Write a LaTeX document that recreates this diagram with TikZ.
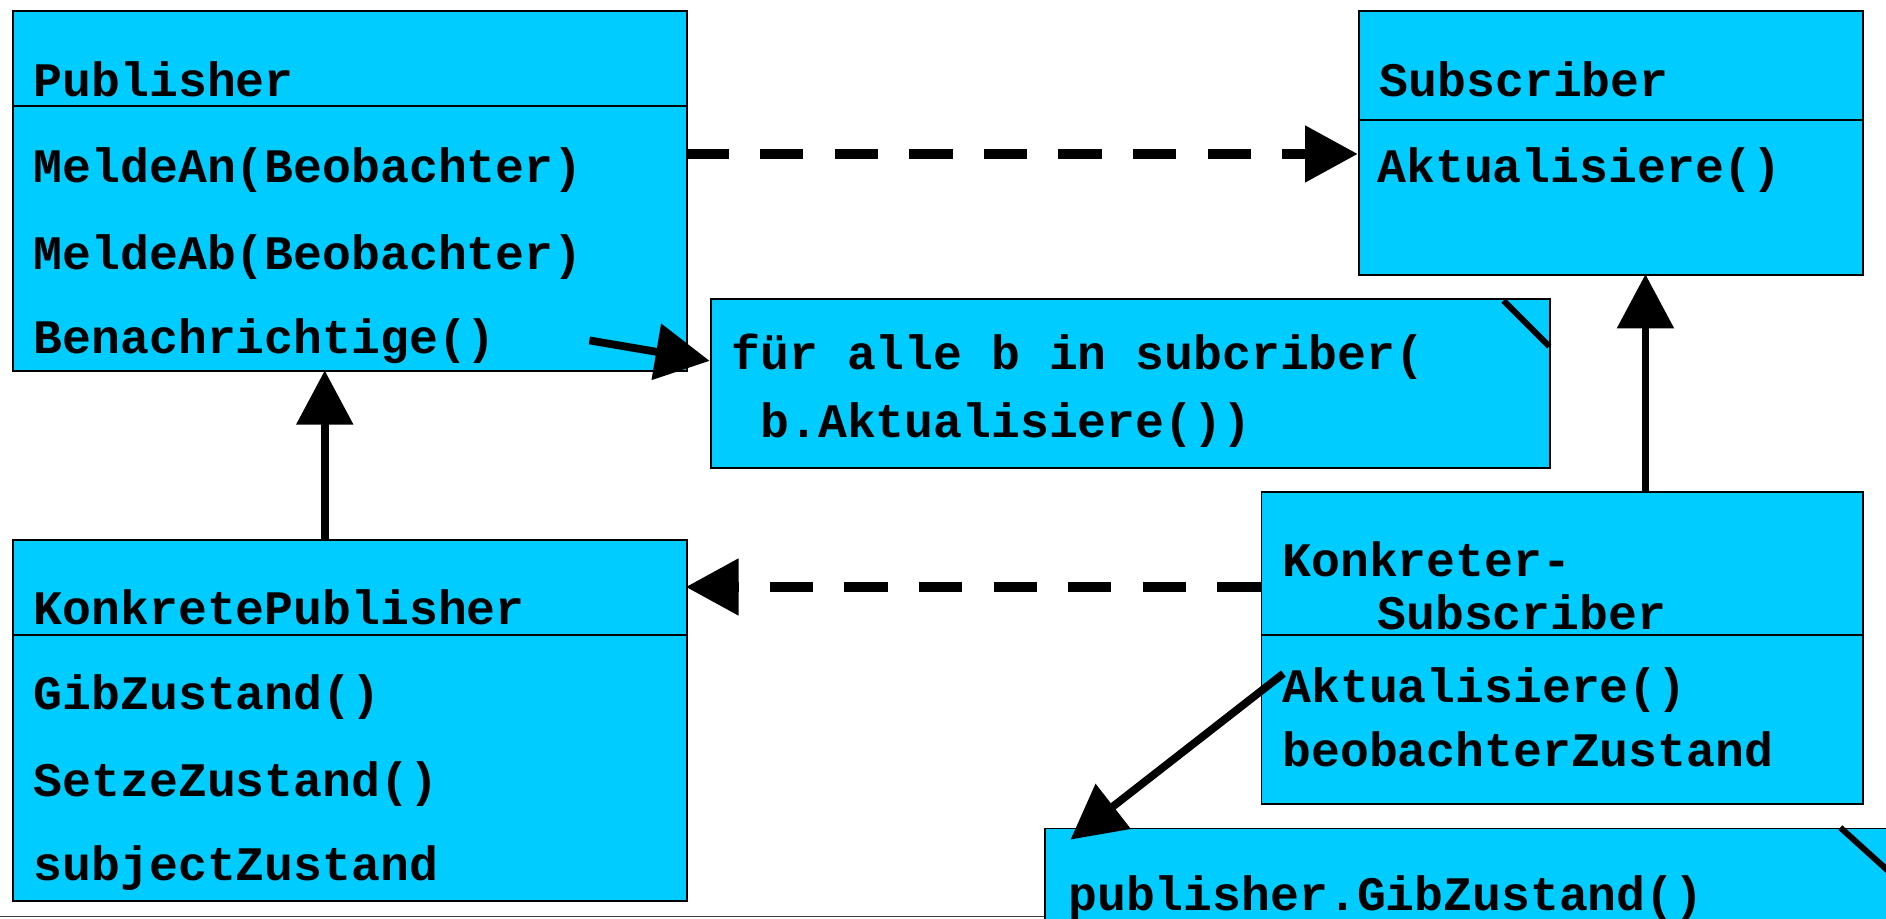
\documentclass[tikz,border=0pt]{standalone}
\usepackage{fontspec}
\setmonofont{Liberation Mono}
\usetikzlibrary{arrows.meta}
\definecolor{boxfill}{RGB}{0,204,255}
\tikzset{
  classbox/.style={draw=black, line width=1.6pt, fill=boxfill, anchor=north west, inner sep=0pt},
  txt/.style={anchor=base west, inner sep=0pt, font=\ttfamily\bfseries\fontsize{40}{47}\selectfont},
  divider/.style={line width=1.6pt},
  earline/.style={line width=5pt},
  solidarrow/.style={line width=6.5pt, -{Triangle[length=45pt,width=46pt]}},
  dasharrow/.style={line width=9pt, dash pattern=on 36pt off 26pt, -{Triangle[length=44pt,width=45pt]}},
}
\begin{document}
\begin{tikzpicture}[x=1pt,y=-1pt]
\useasboundingbox (0,0) rectangle (1568,764);
\fill[white] (0,0) rectangle (1568,764);

% baseline rule along the bottom
\draw[line width=1.4pt, black!75] (0,762) -- (868,762);

% Publisher
\node[classbox, minimum width=560pt, minimum height=300pt] (pub) at (10,8) {};
\draw[divider] (10,88) -- (570,88);
\node[txt] (pubT) at (28,80) {Publisher};
\node[txt] (pub1) at (28,152) {MeldeAn(Beobachter)};
\node[txt] (pub2) at (28,224) {MeldeAb(Beobachter)};
\node[txt] (pub3) at (28,294) {Benachrichtige()};

% Subscriber
\node[classbox, minimum width=419pt, minimum height=220pt] (sub) at (1129,8) {};
\draw[divider] (1129,100) -- (1548,100);
\node[txt] (subT) at (1147,80) {Subscriber};
\node[txt] (sub1) at (1145,152) {Aktualisiere()};

% note attached to Benachrichtige()
\node[classbox, minimum width=698pt, minimum height=140pt] (note1) at (590,248) {};
\draw[earline] (1250,250) -- (1288,288);
\node[txt] (n1a) at (608,307) {für alle b in subcriber(};
\node[txt] (n1b) at (608,364) {\ b.Aktualisiere())};

% KonkretePublisher
\node[classbox, minimum width=560pt, minimum height=300pt] (kpub) at (10,448) {};
\draw[divider] (10,528) -- (570,528);
\node[txt] (kpubT) at (28,519) {KonkretePublisher};
\node[txt] (kpub1) at (28,590) {GibZustand()};
\node[txt] (kpub2) at (28,662) {SetzeZustand()};
\node[txt] (kpub3) at (28,732) {subjectZustand};

% KonkreterSubscriber
\node[classbox, minimum width=500pt, minimum height=260pt] (ksub) at (1048,408) {};
\draw[divider] (1048,528) -- (1548,528);
\node[txt] (ksubT1) at (1066,479) {Konkreter-};
\node[txt] (ksubT2) at (1145,523) {Subscriber};
\node[txt] (ksub1) at (1066,584) {Aktualisiere()};
\node[txt] (ksub2) at (1066,637) {beobachterZustand};

% note attached to KonkreterSubscriber
\node[classbox, minimum width=704pt, minimum height=120pt] (note2) at (868,688) {};
\draw[earline] (1530,688) -- (1572,726);
\node[txt] (n2a) at (888,757) {publisher.GibZustand()};

% connectors
\coordinate (pubR) at (570,128);
\coordinate (subL) at (1129,128);
\draw[dasharrow] (pubR) -- (subL);

\coordinate (benStart) at (490,283);
\coordinate (note1In) at (590,300);
\draw[solidarrow] (benStart) -- (note1In);

\coordinate (kpubTop) at (270,448);
\coordinate (pubBot) at (270,308);
\draw[solidarrow] (kpubTop) -- (pubBot);

\coordinate (ksubTop) at (1368,408);
\coordinate (subBot) at (1368,228);
\draw[solidarrow] (ksubTop) -- (subBot);

\coordinate (ksubL) at (1048,488);
\coordinate (kpubR) at (570,488);
\draw[dasharrow] (ksubL) -- (kpubR);

\coordinate (aktStart) at (1067,560);
\coordinate (note2In) at (890,698);
\draw[solidarrow] (aktStart) -- (note2In);
\end{tikzpicture}
\end{document}
